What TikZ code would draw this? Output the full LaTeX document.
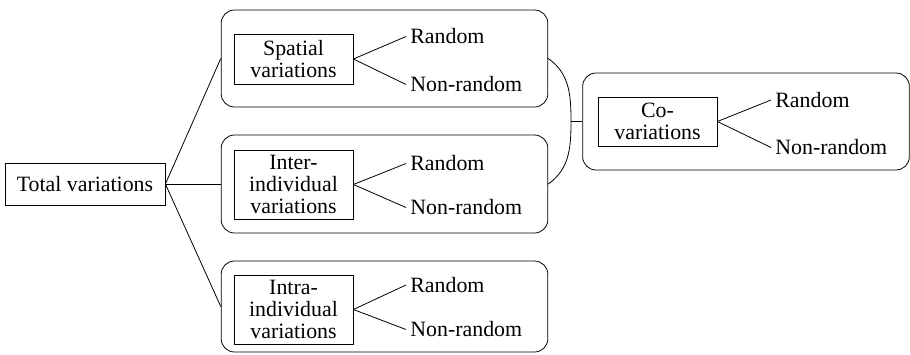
\documentclass[tikz,border=0pt]{standalone}
\usepackage{fontspec}
\setmainfont{Liberation Serif}
\usepackage{tikz}

\begin{document}
\begin{tikzpicture}[x=0.75pt,y=-0.75pt,line width=0.6pt,font=\fontsize{16.4}{16.6}\selectfont]
    \tikzstyle{total}=[draw, minimum width=120pt, minimum height=31.5pt, inner sep=2pt]
    \tikzstyle{group}=[draw, rounded corners=10pt, minimum width=245pt, inner sep=0pt]
    \tikzstyle{kind}=[draw, align=center, minimum width=89.25pt, inner sep=2pt]
    \tikzstyle{leaf}=[anchor=west, inner sep=3pt]

    \useasboundingbox (0,0) rectangle (910,354);

    \node[total]                         (tot) at (85,184)    {Total variations};

    \node[group, minimum height=72.75pt] (sp)  at (384.5,58.5) {};
    \node[group, minimum height=73.5pt]  (in)  at (384.5,184)  {};
    \node[group, minimum height=68.25pt] (ia)  at (384.5,306.5) {};
    \node[group, minimum height=72.75pt] (co)  at (746,121.5)  {};

    \node[kind, minimum height=37.5pt]   (spk) at (293.5,59)   {Spatial\\variations};
    \node[kind, minimum height=51.75pt]  (ink) at (293.5,184.5) {Inter-\\individual\\variations};
    \node[kind, minimum height=51.75pt]  (iak) at (293.5,309.5) {Intra-\\individual\\variations};
    \node[kind, minimum height=36.75pt]  (cok) at (657.5,121.5) {Co-\\variations};

    \node[leaf] (sp1) at (406,36.5)  {Random};
    \node[leaf] (sp2) at (406,84.5)  {Non-random};
    \node[leaf] (in1) at (406,163.5) {Random};
    \node[leaf] (in2) at (406,207.5) {Non-random};
    \node[leaf] (ia1) at (406,285)   {Random};
    \node[leaf] (ia2) at (406,329.5) {Non-random};
    \node[leaf] (co1) at (771,100)   {Random};
    \node[leaf] (co2) at (771,147.5) {Non-random};

    \coordinate (br) at (571,121.5);

    \path[draw]
     (tot.east) edge (sp.west)
     (tot.east) edge (in.west)
     (tot.east) edge (ia.west)
     (spk.east) edge (sp1.west)
     (spk.east) edge (sp2.west)
     (ink.east) edge (in1.west)
     (ink.east) edge (in2.west)
     (iak.east) edge (ia1.west)
     (iak.east) edge (ia2.west)
     (cok.east) edge (co1.west)
     (cok.east) edge (co2.west)
     (br) edge (co.west);

    \draw (sp.east) to[out=-35,in=90] (br) to[out=-90,in=35] (in.east);
  \end{tikzpicture}
\end{document}
